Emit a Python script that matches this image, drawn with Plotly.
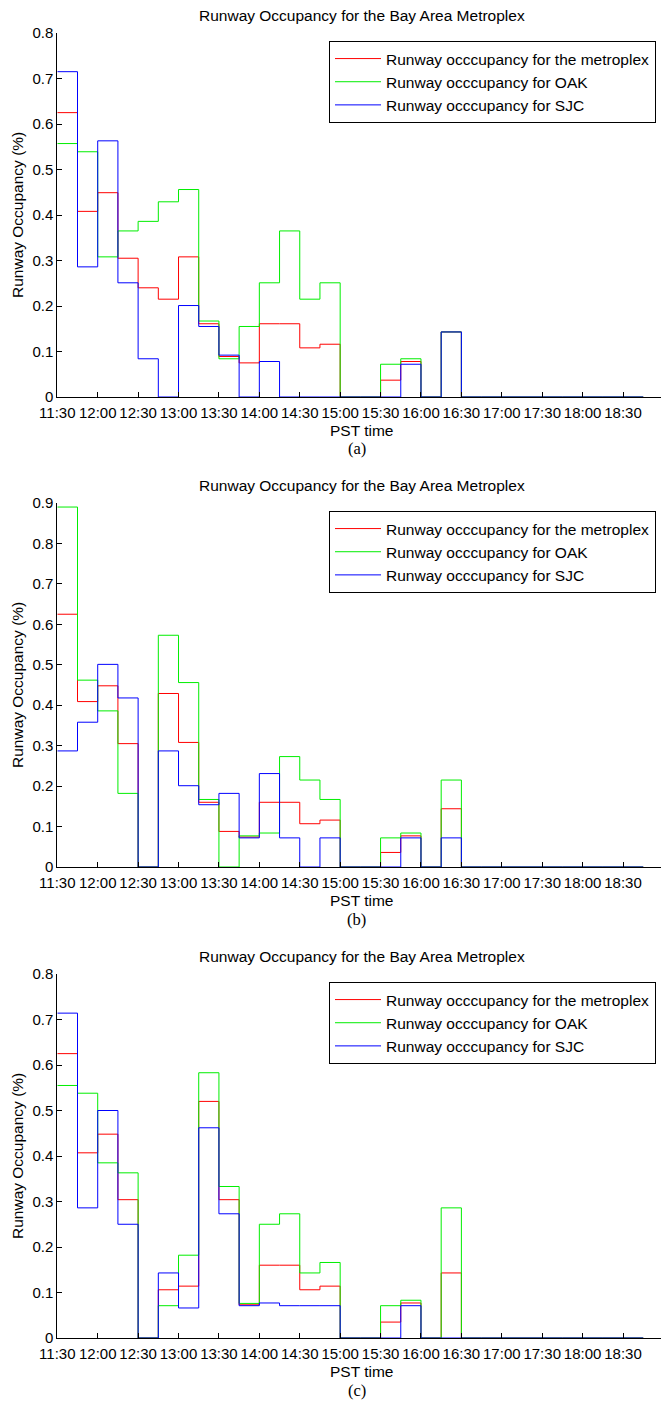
import plotly.graph_objects as go

W, H = 661, 1402

# 15-minute bin edges (29 bins, 11:30 -> 18:45)
bin_edges = ["11:30", "11:45", "12:00", "12:15", "12:30", "12:45", "13:00", "13:15",
             "13:30", "13:45", "14:00", "14:15", "14:30", "14:45", "15:00", "15:15",
             "15:30", "15:45", "16:00", "16:15", "16:30", "16:45", "17:00", "17:15",
             "17:30", "17:45", "18:00", "18:15", "18:30", "18:45"]
tick_labels = ["11:30", "12:00", "12:30", "13:00", "13:30", "14:00", "14:30", "15:00",
               "15:30", "16:00", "16:30", "17:00", "17:30", "18:00", "18:30"]

series_names = ["Runway occcupancy for the metroplex",
                "Runway occcupancy for OAK",
                "Runway occcupancy for SJC"]

# Panel (a)
a_metroplex = [0.625, 0.408, 0.449, 0.305, 0.240, 0.215, 0.308, 0.161, 0.089, 0.075,
               0.161, 0.161, 0.108, 0.116, 0, 0, 0.037, 0.078, 0, 0.143,
               0, 0, 0, 0, 0, 0, 0, 0, 0]
a_oak = [0.557, 0.539, 0.308, 0.365, 0.386, 0.429, 0.456, 0.167, 0.084, 0.155,
         0.251, 0.365, 0.215, 0.251, 0, 0, 0.072, 0.084, 0, 0.143,
         0, 0, 0, 0, 0, 0, 0, 0, 0]
a_sjc = [0.715, 0.286, 0.563, 0.251, 0.084, 0, 0.201, 0.155, 0.092, 0,
         0.078, 0, 0, 0, 0, 0, 0, 0.072, 0, 0.143,
         0, 0, 0, 0, 0, 0, 0, 0, 0]

# Panel (b)
b_metroplex = [0.625, 0.409, 0.448, 0.305, 0, 0.429, 0.308, 0.160, 0.088, 0.074,
               0.160, 0.160, 0.107, 0.116, 0, 0, 0.036, 0.077, 0, 0.144,
               0, 0, 0, 0, 0, 0, 0, 0, 0]
b_oak = [0.890, 0.462, 0.386, 0.182, 0, 0.573, 0.456, 0.167, 0, 0.077,
         0.084, 0.273, 0.215, 0.167, 0, 0, 0.072, 0.084, 0, 0.215,
         0, 0, 0, 0, 0, 0, 0, 0, 0]
b_sjc = [0.287, 0.358, 0.501, 0.418, 0, 0.287, 0.201, 0.154, 0.182, 0.072,
         0.231, 0.072, 0, 0.072, 0, 0, 0, 0.072, 0, 0.072,
         0, 0, 0, 0, 0, 0, 0, 0, 0]

# Panel (c)
c_metroplex = [0.625, 0.407, 0.448, 0.304, 0, 0.106, 0.114, 0.520, 0.304, 0.073,
               0.160, 0.160, 0.106, 0.114, 0, 0, 0.035, 0.077, 0, 0.143,
               0, 0, 0, 0, 0, 0, 0, 0, 0]
c_oak = [0.555, 0.538, 0.385, 0.363, 0, 0.071, 0.182, 0.583, 0.333, 0.076,
         0.250, 0.273, 0.143, 0.166, 0, 0, 0.071, 0.083, 0, 0.286,
         0, 0, 0, 0, 0, 0, 0, 0, 0]
c_sjc = [0.714, 0.286, 0.500, 0.250, 0, 0.143, 0.066, 0.462, 0.273, 0.071,
         0.077, 0.071, 0.071, 0.071, 0, 0, 0, 0.071, 0, 0,
         0, 0, 0, 0, 0, 0, 0, 0, 0]

y_max = [0.8, 0.9, 0.8]
panel_labels = ["(a)", "(b)", "(c)"]
title_text = "Runway Occupancy for the Bay Area Metroplex"
colors = ["#ff0000", "#00ee00", "#0000ff"]


def hours(s):
    h, m = s.split(":")
    return int(h) + int(m) / 60.0


x_edges = [hours(s) for s in bin_edges]
tick_vals = [hours(s) for s in tick_labels]

panels = [
    [a_metroplex, a_oak, a_sjc],
    [b_metroplex, b_oak, b_sjc],
    [c_metroplex, c_oak, c_sjc],
]

# pixel layout of each panel: (top, bottom)
panel_px = [(33, 397), (503, 867), (974, 1338)]
x_left_px = 57.3
FONT = "Liberation Sans, Arial, Helvetica, sans-serif"
FS = 15.5
TICK_FS = 15


def py(p):
    return 1 - p / H


def px(p):
    return p / W


fig = go.Figure()
layout = dict(
    width=W, height=H,
    margin=dict(l=0, r=0, t=0, b=0, autoexpand=False),
    paper_bgcolor="white", plot_bgcolor="white",
    font=dict(family=FONT, size=FS, color="black"),
    showlegend=True,
    annotations=[],
)

for i, series in enumerate(panels):
    xa = "x" if i == 0 else f"x{i+1}"
    ya = "y" if i == 0 else f"y{i+1}"
    lg = "legend" if i == 0 else f"legend{i+1}"
    for name, vals, col in zip(series_names, series, colors):
        fig.add_trace(go.Scatter(
            x=x_edges, y=list(vals) + [vals[-1]],
            mode="lines", line=dict(color=col, width=1, shape="hv"),
            name=name, xaxis=xa, yaxis=ya, legend=lg,
        ))
    top, bot = panel_px[i]
    xkey = "xaxis" if i == 0 else f"xaxis{i+1}"
    ykey = "yaxis" if i == 0 else f"yaxis{i+1}"
    layout[xkey] = dict(
        domain=[px(x_left_px), 1.0], range=[11.5, 18.97], anchor=ya,
        tickvals=tick_vals, ticktext=tick_labels, tickangle=0,
        showline=True, linecolor="black", linewidth=1,
        ticks="inside", ticklen=5, tickcolor="black",
        showgrid=False, zeroline=False, automargin=False,
        ticklabelstandoff=2,
        tickfont=dict(family=FONT, size=TICK_FS),
    )
    layout[ykey] = dict(
        domain=[py(bot), py(top)], range=[0, y_max[i]], anchor=xa,
        dtick=0.1, tick0=0,
        showline=True, linecolor="black", linewidth=1,
        ticks="inside", ticklen=5, tickcolor="black",
        showgrid=False, zeroline=False, automargin=False,
        tickfont=dict(family=FONT, size=TICK_FS),
    )
    layout[lg] = dict(
        x=px(329), y=py(41 + (top - 33)), xanchor="left", yanchor="top",
        bordercolor="black", borderwidth=1, bgcolor="white",
        font=dict(family=FONT, size=FS), tracegroupgap=0,
        itemwidth=46,
    )
    # title
    layout["annotations"].append(dict(
        text=title_text, x=px(362), y=py(top - 18), xref="paper", yref="paper",
        showarrow=False, xanchor="center", yanchor="middle",
        font=dict(family=FONT, size=FS)))
    # y title
    layout["annotations"].append(dict(
        text="Runway Occupancy (%)", x=px(17), y=py((top + bot) / 2),
        xref="paper", yref="paper", textangle=-90,
        showarrow=False, xanchor="center", yanchor="middle",
        font=dict(family=FONT, size=FS)))
    # x title
    layout["annotations"].append(dict(
        text="PST time", x=px(361), y=py(bot + 33), xref="paper", yref="paper",
        showarrow=False, xanchor="center", yanchor="middle",
        font=dict(family=FONT, size=FS)))
    # panel label
    layout["annotations"].append(dict(
        text=panel_labels[i], x=px(357), y=py(bot + 52), xref="paper", yref="paper",
        showarrow=False, xanchor="center", yanchor="middle", borderpad=0,
        font=dict(family="Liberation Serif, Times New Roman, serif", size=16.5)))

fig.update_layout(**layout)
fig.write_html("out.html")
